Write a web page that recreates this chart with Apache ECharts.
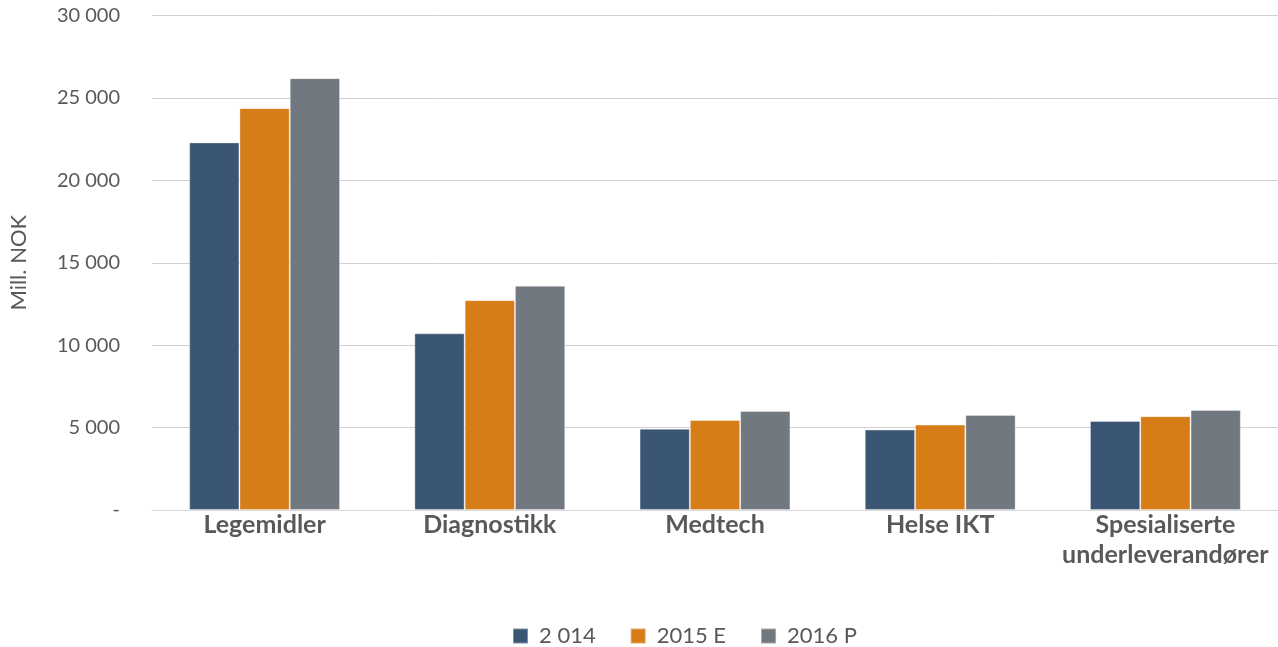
<!DOCTYPE html>
<html><head><meta charset="utf-8">
<script src="https://cdn.jsdelivr.net/npm/echarts@6/dist/echarts.min.js"></script>
<style>html,body{margin:0;padding:0;background:#fff}#c{width:1278px;height:647px}</style>
</head><body><div id="c"></div>
<script>
const categories = ['Legemidler','Diagnostikk','Medtech','Helse IKT','Spesialiserte\nunderleverandører'];
const seriesNames = ['2 014','2015 E','2016 P'];
const v2014 = [22300, 10720, 4930, 4880, 5400];
const v2015 = [24380, 12730, 5460, 5180, 5690];
const v2016 = [26200, 13600, 6010, 5770, 6070];
const colors = ['#3b5675','#d67d18','#71787f'];
const yMin = 0, yMax = 30000, yInterval = 5000;
const fontFam = 'Lato, "Open Sans", sans-serif';
const chart = echarts.init(document.getElementById('c'));
const data = [v2014, v2015, v2016];
chart.setOption({
  animation:false,
  grid:{left:148,right:0,top:15.5,bottom:137,containLabel:false},
  legend:{top:619,left:507,itemWidth:15,itemHeight:15,itemGap:34,icon:'rect',
    textStyle:{color:'#595959',fontSize:22,lineHeight:24,fontFamily:fontFam,padding:[0,0,0,6]}},
  xAxis:{type:'category',data:categories,
    axisLine:{lineStyle:{color:'#d9d9d9'}},axisTick:{show:false},
    axisLabel:{color:'#595959',fontSize:25,fontWeight:'bold',fontFamily:fontFam,margin:0,lineHeight:30,interval:0}},
  yAxis:{type:'value',min:yMin,max:yMax,interval:yInterval,
    name:'Mill. NOK',nameLocation:'middle',nameGap:122,nameRotate:90,
    nameTextStyle:{color:'#595959',fontSize:22,fontFamily:fontFam},
    axisLine:{show:false},axisTick:{show:false},
    splitLine:{lineStyle:{color:'#d0d0d0'}},
    axisLabel:{color:'#595959',fontSize:20,fontFamily:fontFam,margin:32,
      formatter:v=>v===0?'-':String(v).replace(/\B(?=(\d{3})+(?!\d))/g,' ')}},
  series: seriesNames.map((n,i)=>({name:n,type:'bar',data:data[i],barGap:'0%',barCategoryGap:'33%',
    itemStyle:{color:colors[i],borderColor:'rgba(255,255,255,0.35)',borderWidth:1}}))
});
</script></body></html>
